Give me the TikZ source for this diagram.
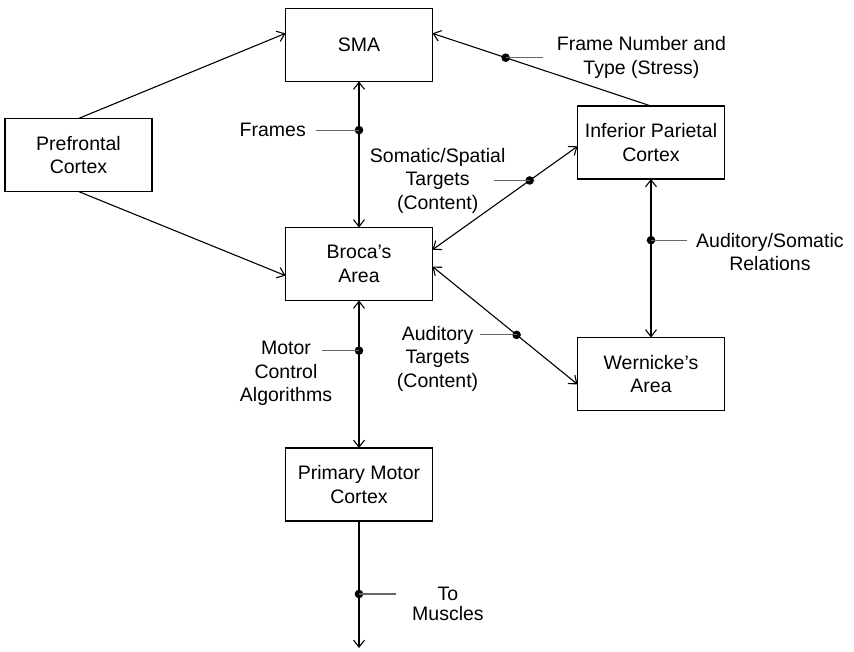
\documentclass[tikz,border=0pt]{standalone}
\usepackage{fontspec}
\setmainfont{Liberation Sans}
\usetikzlibrary{arrows.meta, calc}

\begin{document}
\begin{tikzpicture}[
			x = 1pt, y = -1pt,
			every node/.style = {font = \fontsize{19.5}{23.5}\selectfont, align = center},
			area/.style = {draw, rectangle, line width = 1.4pt, minimum width = 147pt, minimum height = 73pt, inner sep = 0pt, outer sep = 0pt},
			link/.style = {line width = 1.1pt},
			lead/.style = {draw = black!60, line width = 1.1pt},
			> = {Straight Barb[length = 7pt, width = 11pt]}]
			\useasboundingbox (0,0) rectangle (854,652);

			% Areas
			\node[area] (SMA) at (359,45) {SMA};
			\node[area] (pfc) at (78.5,155) {Prefrontal\\Cortex};
			\node[area] (broca) at (359,264) {Broca's\\Area};
			\node[area] (ipc) at (651,142.5) {Inferior Parietal\\Cortex};
			\node[area] (wern) at (651,374) {Wernicke's\\Area};
			\node[area] (pmc) at (359,484.5) {Primary Motor\\Cortex};
			\coordinate (muscles) at (359,648);

			% Pathways
			\draw[link, ->] (pfc.north) -- (SMA.171);
			\draw[link, ->] (pfc.south) -- (broca.189);
			\draw[link, ->] (ipc.north) -- coordinate[pos = 0.665] (jframe) (SMA.9);
			\draw[link, <->] (SMA) -- coordinate[pos = 0.333] (jframes) (broca);
			\draw[link, <->] (broca.11) -- coordinate[pos = 0.67] (jsom) (ipc.183);
			\draw[link, <->] (broca.-2) -- coordinate[pos = 0.58] (jaud) (wern.188);
			\draw[link, <->] (ipc) -- coordinate[pos = 0.386] (jrel) (wern);
			\draw[link, <->] (broca) -- coordinate[pos = 0.34] (jmot) (pmc);
			\draw[link, ->] (pmc) -- coordinate[pos = 0.575] (jmus) (muscles);

			\foreach \j in {jframe, jframes, jsom, jaud, jrel, jmot, jmus}
				\fill (\j) circle (4.3pt);

			% Labels
			\draw[lead] (jframe) -- ++(37,0) coordinate (lframe);
			\node[anchor = west, inner sep = 0pt, xshift = 14pt] at (lframe) {Frame Number and\\Type (Stress)};

			\draw[lead] (jframes) -- ++(-43,0) coordinate (lframes);
			\node[anchor = east, inner sep = 0pt, xshift = -10pt] at (lframes) {Frames};

			\draw[lead] (jsom) -- ++(-36,0) coordinate (lsom);
			\node[xshift = -56pt] at (lsom) {Somatic/Spatial\\Targets\\(Content)};

			\draw[lead] (jaud) -- ++(-37,0) coordinate (laud);
			\node[xshift = -42pt, yshift = -24pt] at (laud) {Auditory\\Targets\\(Content)};

			\draw[lead] (jmot) -- ++(-37,0) coordinate (lmot);
			\node[xshift = -36pt, yshift = -23pt] at (lmot) {Motor\\Control\\Algorithms};

			\draw[lead] (jrel) -- ++(36,0) coordinate (lrel);
			\node[anchor = west, inner sep = 0pt, xshift = 9pt, yshift = -12pt] at (lrel) {Auditory/Somatic\\Relations};

			\draw[lead] (jmus) -- ++(37,0) coordinate (lmus);
			\node[anchor = west, inner sep = 0pt, xshift = 16pt, yshift = -10pt] at (lmus) {To\\[-4pt]Muscles};
		\end{tikzpicture}
\end{document}
